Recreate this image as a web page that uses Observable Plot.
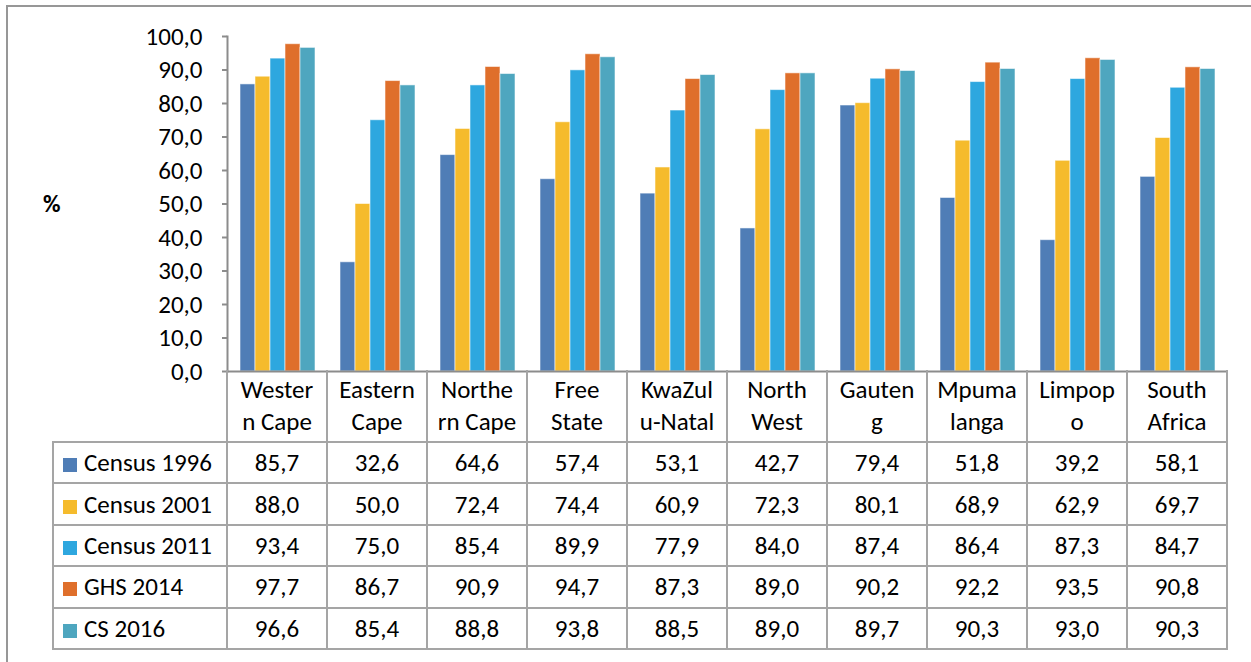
<!DOCTYPE html>
<html><head><meta charset="utf-8">
<script src="https://cdn.jsdelivr.net/npm/d3@7"></script>
<script src="https://cdn.jsdelivr.net/npm/@observablehq/plot@0.6"></script>
<style>
body{margin:0;background:#fff;font-family:Carlito,Lato,sans-serif;}
#wrap{position:relative;width:1251px;height:662px;overflow:hidden;background:#fff;}
#frame{position:absolute;left:6px;top:5px;right:-10px;bottom:-10px;border-top:2px solid #979797;border-left:2px solid #979797;pointer-events:none;}
#chart{position:absolute;left:0;top:0;}
#pct{position:absolute;left:43px;top:189px;font-weight:bold;font-size:24px;color:#000;}
table{position:absolute;left:52px;top:370px;border-collapse:collapse;font-size:25px;table-layout:fixed;color:#000;}
td{border:2px solid #a5a5a5;text-align:center;padding:0;white-space:nowrap;overflow:hidden;}
tr.head td{height:71px;line-height:32px;border-top:none;}
tr.head td.blank{border-left:none;}
tr.data td{height:39.4px;}
td.leg{text-align:left;padding-left:9px;}
.sw{display:inline-block;width:14px;height:14px;margin-right:7px;vertical-align:-1px;}
</style>
</head><body>
<div id="wrap">
  <div id="chart"></div>
  <div id="pct">%</div>
  <table id="tbl"></table>
  <div id="frame"></div>
</div>
<script>
const regions = ["Western Cape","Eastern Cape","Northern Cape","Free State","KwaZulu-Natal","North West","Gauteng","Mpumalanga","Limpopo","South Africa"];
const headerLines = [["Wester","n Cape"],["Eastern","Cape"],["Northe","rn Cape"],["Free","State"],["KwaZul","u-Natal"],["North","West"],["Gauten","g"],["Mpuma","langa"],["Limpop","o"],["South","Africa"]];
const series = ["Census 1996","Census 2001","Census 2011","GHS 2014","CS 2016"];
const census1996 = [85.7,32.6,64.6,57.4,53.1,42.7,79.4,51.8,39.2,58.1];
const census2001 = [88.0,50.0,72.4,74.4,60.9,72.3,80.1,68.9,62.9,69.7];
const census2011 = [93.4,75.0,85.4,89.9,77.9,84.0,87.4,86.4,87.3,84.7];
const ghs2014 = [97.7,86.7,90.9,94.7,87.3,89.0,90.2,92.2,93.5,90.8];
const cs2016 = [96.6,85.4,88.8,93.8,88.5,89.0,89.7,90.3,93.0,90.3];
const yTicks = [0,10,20,30,40,50,60,70,80,90,100];
const colors = ["#4f7db6","#f5bb2c","#2ea7df","#df6f2b","#4ea6bf"];

const valuesBySeries = [census1996, census2001, census2011, ghs2014, cs2016];
const rows = [];
series.forEach((s, si) => regions.forEach((r, ri) => rows.push({region: r, series: s, value: valuesBySeries[si][ri]})));
const fmt = d => d.toFixed(1).replace(".", ",");

const chart = Plot.plot({
  width: 1251, height: 373,
  marginLeft: 227, marginRight: 24, marginTop: 36, marginBottom: 2,
  style: {fontFamily: "Carlito, Lato, sans-serif", fontSize: "25px", color: "#000", background: "transparent", overflow: "visible"},
  fx: {domain: regions, padding: 0, axis: null, label: null},
  x: {domain: series, paddingInner: 0, paddingOuter: 0.72, axis: null},
  y: {domain: [0, 100]},
  color: {domain: series, range: colors},
  marks: [
    Plot.barY(rows, {fx: "region", x: "series", y: "value", fill: "series", stroke: "#ffffff", strokeOpacity: 0.55, strokeWidth: 1}),
    Plot.axisY({ticks: yTicks, tickSize: 5, tickPadding: 20, tickFormat: fmt, stroke: "#8c8c8c", strokeWidth: 2, fill: "#000", fontSize: 25, label: null}),
    Plot.ruleY([0], {stroke: "#8c8c8c", strokeWidth: 2}),
    Plot.frame({anchor: "left", facetAnchor: "left", stroke: "#8c8c8c", strokeWidth: 2})
  ]
});
document.getElementById("chart").appendChild(chart);

// data table with legend keys
const tbl = document.getElementById("tbl");
const cg = document.createElement("colgroup");
[174, ...regions.map(() => 100)].forEach(w => { const c = document.createElement("col"); c.style.width = w + "px"; cg.appendChild(c); });
tbl.appendChild(cg);
const head = document.createElement("tr"); head.className = "head";
const blank = document.createElement("td"); blank.className = "blank"; head.appendChild(blank);
headerLines.forEach(lines => { const td = document.createElement("td"); td.innerHTML = lines.join("<br>"); head.appendChild(td); });
tbl.appendChild(head);
series.forEach((s, si) => {
  const tr = document.createElement("tr"); tr.className = "data";
  const lt = document.createElement("td"); lt.className = "leg";
  lt.innerHTML = `<span class="sw" style="background:${colors[si]}"></span>${s}`;
  tr.appendChild(lt);
  valuesBySeries[si].forEach(v => { const td = document.createElement("td"); td.textContent = fmt(v); tr.appendChild(td); });
  tbl.appendChild(tr);
});
</script>
</body></html>
